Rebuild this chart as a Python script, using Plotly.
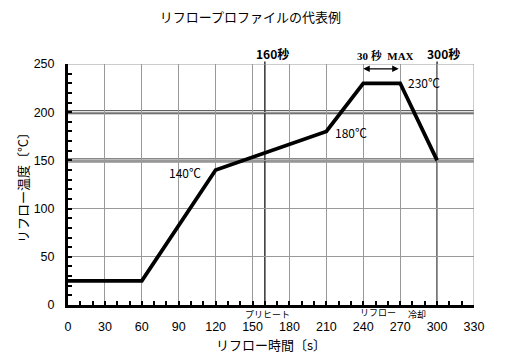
import plotly.graph_objects as go

times = [0, 60, 120, 210, 240, 270, 300]
temps = [25, 25, 140, 180, 230, 230, 150]
x_ticks = list(range(0, 331, 30))
y_ticks = list(range(0, 251, 50))
double_lines_y = [150, 200]
marker_times = [160, 300]

FONT = "Liberation Sans, Arial, Noto Sans CJK JP"
JP = "Noto Sans CJK JP, Liberation Sans"

fig = go.Figure()
fig.add_trace(go.Scatter(x=times, y=temps, mode="lines",
                         line=dict(color="black", width=3.8), hoverinfo="skip"))

shapes = []
for yv in double_lines_y:
    for d in (-1.6, 1.6):
        shapes.append(dict(type="line", xref="x", yref="y", x0=0, x1=330, y0=yv + d, y1=yv + d,
                           line=dict(color="#444444", width=1), layer="below"))
for tv in marker_times:
    shapes.append(dict(type="line", xref="x", yref="paper", x0=tv, x1=tv, y0=0, y1=1.01,
                       line=dict(color="#333333", width=1.5), layer="below"))
shapes.append(dict(type="line", xref="x", yref="y", x0=330, x1=330, y0=0, y1=250,
                   line=dict(color="#999999", width=1), layer="below"))
shapes.append(dict(type="line", xref="x", yref="y", x0=0, x1=330, y0=250, y1=250,
                   line=dict(color="#999999", width=1), layer="below"))
fig.update_layout(shapes=shapes)

def lab(x, y, text, size=12, family=JP, xanchor="center", yref="y", xref="x"):
    return dict(x=x, y=y, xref=xref, yref=yref, text=text, showarrow=False, xanchor=xanchor,
                yanchor="middle", font=dict(size=size, family=family, color="black"))

ann = [
    lab(110, 137.5, "140℃", xanchor="right"),
    lab(215, 179, "180℃", xanchor="left"),
    lab(275, 231, "230℃", xanchor="left"),
    lab(166, 1.045, "<b>160秒</b>", yref="paper", size=12),
    lab(305, 1.045, "<b>300秒</b>", yref="paper", size=12),
    lab(258, 1.035, "<b>30 秒  MAX</b>", yref="paper", size=11,
        family="Liberation Serif, Noto Serif CJK JP, serif"),
    dict(x=240, y=245, ax=270, ay=245, xref="x", yref="y", axref="x", ayref="y", text="",
         showarrow=True, arrowhead=2, arrowsize=1, arrowwidth=1.3, arrowcolor="black",
         arrowside="end+start"),
    lab(162, -0.04, "プリヒート", yref="paper", size=9),
    lab(252, -0.033, "リフロー", yref="paper", size=9),
    lab(284, -0.04, "冷却", yref="paper", size=9),
    lab(0.5, -0.165, "リフロー時間〔s〕", xref="paper", yref="paper", size=13),
    dict(x=-0.112, y=0.5, xref="paper", yref="paper", text="リフロー温度〔°C〕", showarrow=False,
         textangle=-90, xanchor="center", yanchor="middle", font=dict(size=13, family=JP, color="black")),
]
fig.update_layout(annotations=ann)

fig.update_layout(
    width=505, height=361,
    margin=dict(l=68, r=31, t=64, b=56),
    paper_bgcolor="white", plot_bgcolor="white",
    showlegend=False,
    title=dict(text="リフロープロファイルの代表例", x=0.496, xanchor="center", y=0.953, yanchor="middle",
               font=dict(size=13, family=JP, color="black")),
    font=dict(family=FONT, size=12, color="black"),
)
fig.update_xaxes(range=[0, 330], tickvals=x_ticks, ticks="inside", ticklen=4, tickwidth=2, tickcolor="black",
                 showline=True, linecolor="black", linewidth=3, mirror=False, automargin=False,
                 showgrid=True, gridcolor="#999999", gridwidth=1, zeroline=False, ticklabelstandoff=8,
                 minor=dict(dtick=10, ticks="inside", ticklen=4, tickwidth=2, tickcolor="black", showgrid=False),
                 tickfont=dict(size=12.5))
fig.update_yaxes(range=[0, 250], tickvals=y_ticks, ticks="inside", ticklen=4, tickwidth=2, tickcolor="black",
                 showline=True, linecolor="black", linewidth=3, automargin=False,
                 showgrid=True, gridcolor="#999999", gridwidth=1, zeroline=False, ticklabelstandoff=8,
                 minor=dict(dtick=10, ticks="inside", ticklen=4, tickwidth=2, tickcolor="black", showgrid=False),
                 tickfont=dict(size=12.5))

fig.write_html("out.html", config={"displayModeBar": False},
               post_script="document.body.style.margin='0';document.body.style.padding='0';")
